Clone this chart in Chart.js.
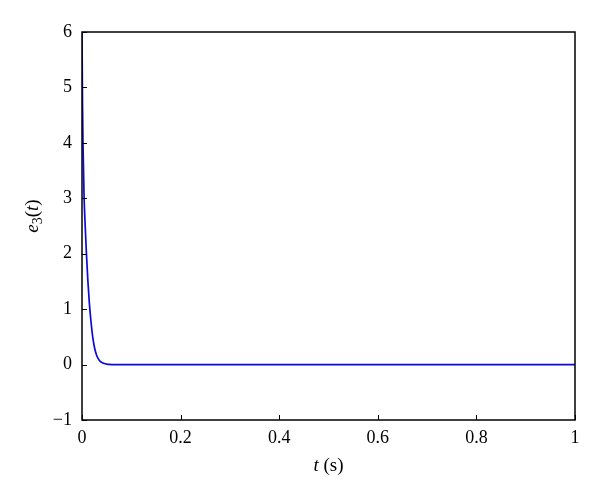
<!DOCTYPE html>
<html>
<head>
<meta charset="utf-8">
<script src="https://cdn.jsdelivr.net/npm/chart.js@4/dist/chart.umd.min.js"></script>
<style>
  html, body { margin: 0; padding: 0; background: #fff; }
  #wrap { width: 600px; height: 499px; }
</style>
</head>
<body>
<div id="wrap"><canvas id="chart"></canvas></div>
<script>
// values
const times = [0, 0.001, 0.002, 0.004, 0.006, 0.009, 0.012, 0.015, 0.018, 0.022, 0.026, 0.03, 0.035, 0.04, 0.045, 0.05, 0.055, 0.06, 0.08, 0.1, 0.2, 0.3, 0.4, 0.5, 0.6, 0.7, 0.8, 0.9, 1.0];
const e3 = [6, 4.7, 4.0, 3.1, 2.6, 2.0, 1.5, 1.1, 0.8, 0.48, 0.28, 0.16, 0.08, 0.04, 0.018, 0.007, 0.002, 0, 0, 0, 0, 0, 0, 0, 0, 0, 0, 0, 0];
const xTicks = [0, 0.2, 0.4, 0.6, 0.8, 1];
const yTicks = [-1, 0, 1, 2, 3, 4, 5, 6];

const serif = '"Liberation Serif", "DejaVu Serif", serif';
const points = times.map((t, i) => ({ x: t, y: e3[i] }));

// box, inward ticks and axis titles
const frame = {
  id: 'frame',
  afterDraw(chart) {
    const c = chart.ctx, a = chart.chartArea;
    const xs = chart.scales.x, ys = chart.scales.y;
    c.save();
    c.strokeStyle = '#000';
    c.lineWidth = 1.5;
    c.strokeRect(a.left, a.top, a.right - a.left, a.bottom - a.top);
    c.lineWidth = 1;
    c.beginPath();
    xTicks.forEach(v => {
      const px = Math.round(xs.getPixelForValue(v)) + 0.5;
      c.moveTo(px, a.bottom); c.lineTo(px, a.bottom - 5);
    });
    yTicks.forEach(v => {
      const py = Math.round(ys.getPixelForValue(v)) + 0.5;
      c.moveTo(a.left, py); c.lineTo(a.left + 5, py);
    });
    c.stroke();

    c.fillStyle = '#000';
    c.textBaseline = 'alphabetic';
    // x title: t (s)
    const cx = (a.left + a.right) / 2;
    c.font = 'italic 19px ' + serif;
    const wT = c.measureText('t').width;
    c.font = '19px ' + serif;
    const wS = c.measureText(' (s)').width;
    let x0 = cx - (wT + wS) / 2;
    c.font = 'italic 19px ' + serif;
    c.fillText('t', x0, 471);
    c.font = '19px ' + serif;
    c.fillText(' (s)', x0 + wT, 471);

    // y title: e3(t), rotated
    c.translate(38, (a.top + a.bottom) / 2 - 10);
    c.rotate(-Math.PI / 2);
    const parts = [
      ['e', 'italic 19px ', 0],
      ['3', '14px ', 4],
      ['(', '19px ', 0],
      ['t', 'italic 19px ', 0],
      [')', '19px ', 0]
    ];
    let w = 0;
    parts.forEach(p => { c.font = p[1] + serif; w += c.measureText(p[0]).width; });
    let px = -w / 2;
    parts.forEach(p => {
      c.font = p[1] + serif;
      c.fillText(p[0], px, p[2]);
      px += c.measureText(p[0]).width;
    });
    c.restore();
  }
};

new Chart(document.getElementById('chart'), {
  type: 'scatter',
  data: {
    datasets: [{
      data: points,
      showLine: true,
      borderColor: '#0a0ad8',
      borderWidth: 1.7,
      pointRadius: 0,
      cubicInterpolationMode: 'monotone'
    }]
  },
  options: {
    responsive: true,
    maintainAspectRatio: false,
    animation: false,
    layout: { padding: { left: 0, right: 25, top: 32, bottom: 0 } },
    plugins: { legend: { display: false }, tooltip: { enabled: false } },
    scales: {
      x: {
        type: 'linear', min: 0, max: 1,
        grid: { display: false, drawTicks: false },
        border: { display: false },
        afterFit: s => { s.height = 79; },
        afterBuildTicks: s => { s.ticks = xTicks.map(v => ({ value: v })); },
        ticks: {
          padding: 7, color: '#000',
          font: { family: serif, size: 18 },
          callback: v => String(v)
        }
      },
      y: {
        type: 'linear', min: -1, max: 6,
        grid: { display: false, drawTicks: false },
        border: { display: false },
        afterFit: s => { s.width = 82; },
        afterBuildTicks: s => { s.ticks = yTicks.map(v => ({ value: v })); },
        ticks: {
          padding: 10, color: '#000',
          font: { family: serif, size: 18 },
          callback: v => (v < 0 ? '\u2212' + Math.abs(v) : String(v))
        }
      }
    }
  },
  plugins: [frame]
});
</script>
</body>
</html>
